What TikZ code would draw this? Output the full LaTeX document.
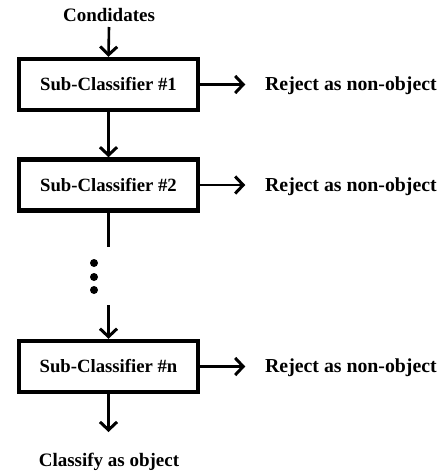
\documentclass[tikz,border=0pt]{standalone}
\usepackage{fontspec}
\setmainfont{Liberation Serif}
\usetikzlibrary{arrows.meta}
\begin{document}
\begin{tikzpicture}[x=1pt,y=-1pt,
  box/.style={draw, line width=4.5pt, minimum width=179pt, minimum height=51pt, inner sep=0pt, font=\bfseries\fontsize{18.7}{20}\selectfont},
  lbl/.style={font=\bfseries\fontsize{19}{21}\selectfont, inner sep=0pt},
  rej/.style={lbl, font=\bfseries\fontsize{19.8}{21}\selectfont, anchor=west},
  arr/.style={line width=2.6pt, -{Straight Barb[length=8pt,width=17pt,line width=3pt]}},
  ln/.style={line width=2.6pt},
  dot/.style={circle, fill, inner sep=0pt, minimum size=8pt}]
\useasboundingbox (0,0) rectangle (439,474);
\node[lbl] (cand) at (109,15) {Condidates};
\node[box] (b1) at (108.5,84.5) {Sub-Classifier \#1};
\node[box] (b2) at (108.5,185) {Sub-Classifier \#2};
\node[box] (bn) at (108.5,366.5) {Sub-Classifier \#n};
\node[rej] (r1) at (265,86) {Reject as non-object};
\node[rej] (r2) at (265,187) {Reject as non-object};
\node[rej] (rn) at (265,368) {Reject as non-object};
\node[lbl] (cls) at (109,462) {Classify as object};
\node[dot] (d1) at (94,263) {};
\node[dot] (d2) at (94,277) {};
\node[dot] (d3) at (94,290) {};
\coordinate (l2) at (108.5,247);
\coordinate (an) at (108.5,305);
\coordinate (ce) at (108.5,432);
\draw[arr] (cand.south |- 0,27) -- (b1.north);
\draw[arr] (b1.south) -- (b2.north);
\draw[ln] (b2.south) -- (l2);
\draw[arr] (an) -- (bn.north);
\draw[arr] (bn.south) -- (ce);
\draw[arr] (b1.east) -- ([xshift=45pt]b1.east);
\draw[arr] (b2.east) -- ([xshift=45pt]b2.east);
\draw[arr] (bn.east) -- ([xshift=45pt]bn.east);
\end{tikzpicture}
\end{document}
